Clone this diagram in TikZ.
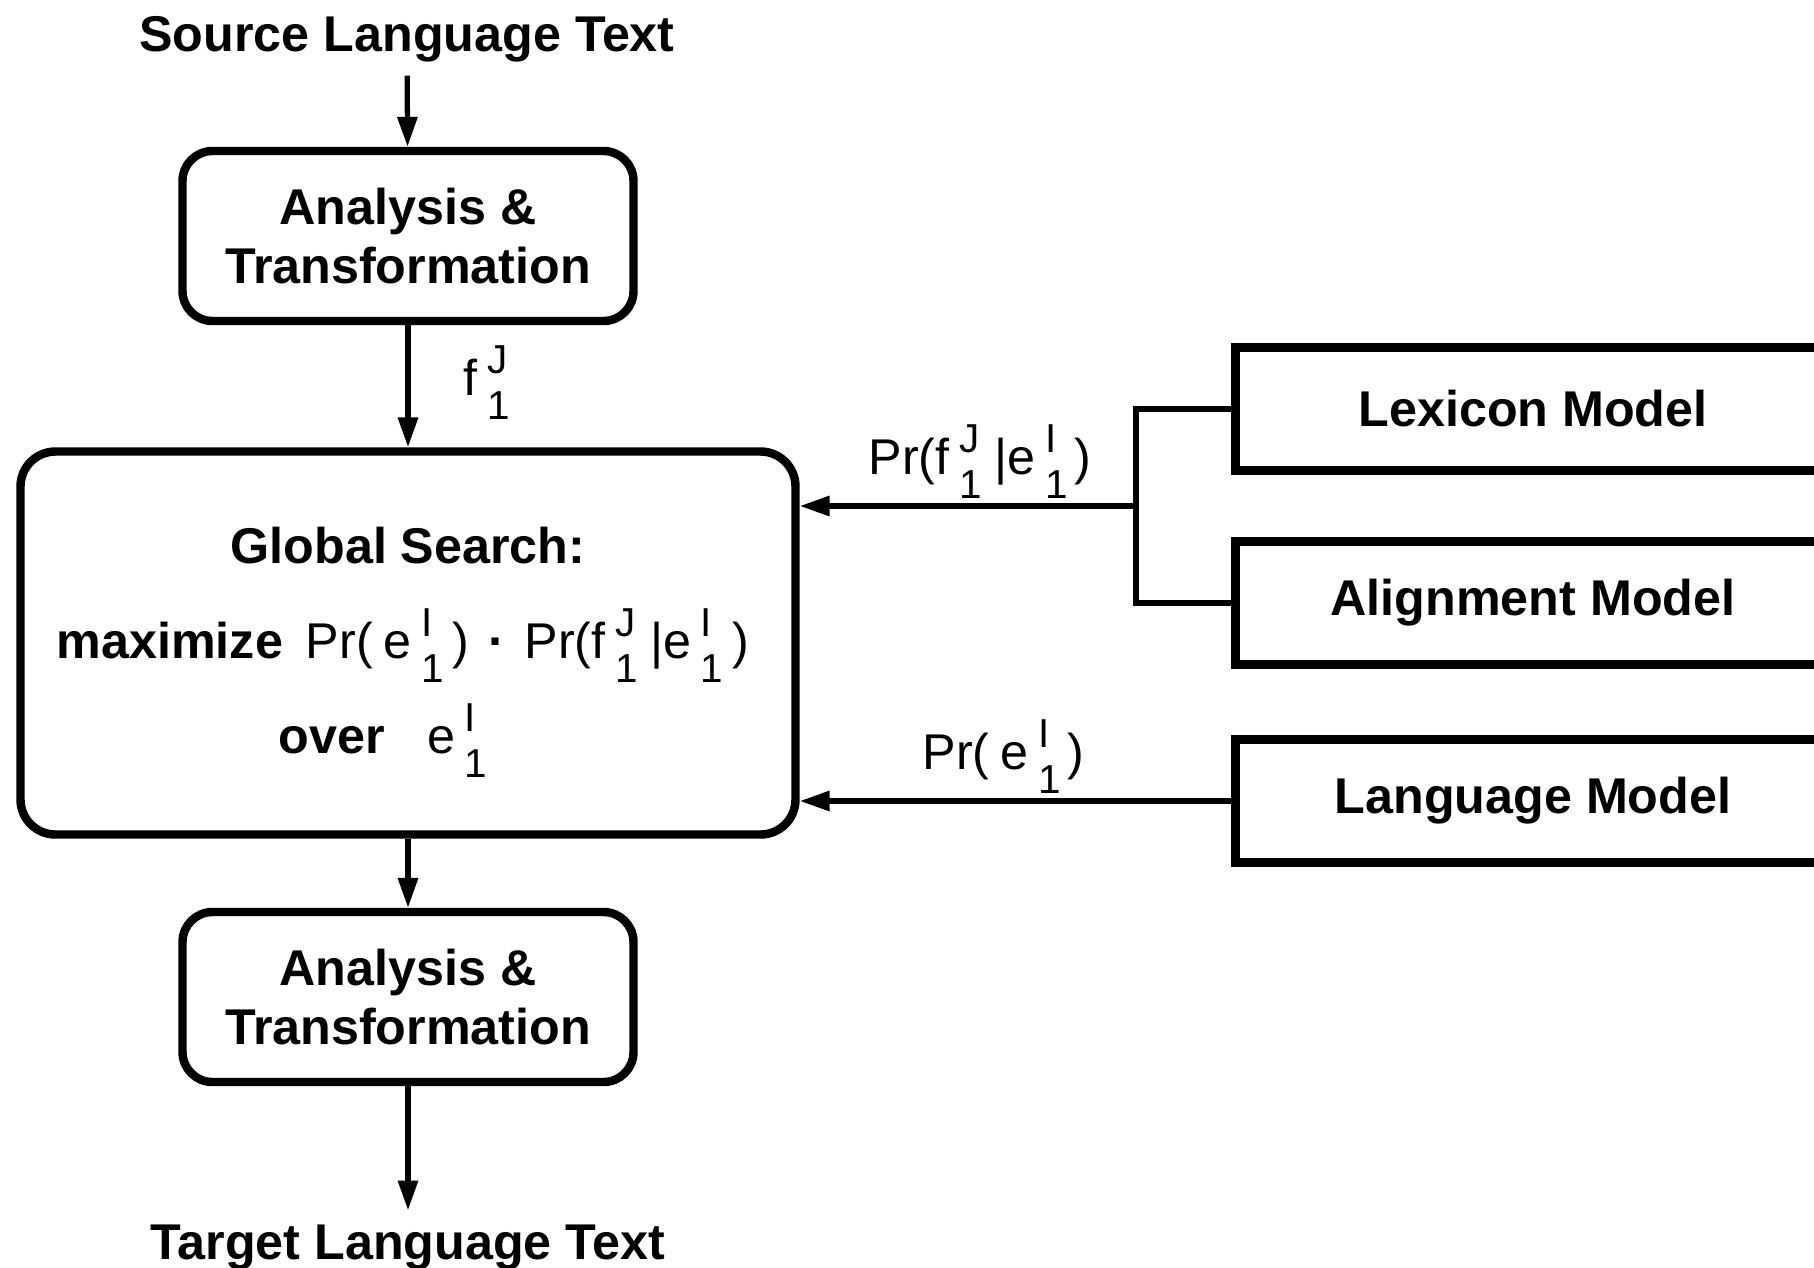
\documentclass[tikz,border=0pt]{standalone}
\usepackage{fontspec}
\setmainfont{Liberation Sans}
\usetikzlibrary{arrows.meta}
\newcommand{\mainsize}{\fontsize{14.3}{16.7}\selectfont}
\newcommand{\idxsize}{\fontsize{11.5}{13}\selectfont}
\newcommand{\seqvar}[2]{#1\hspace{2.8pt}\rlap{\raisebox{6pt}{\idxsize #2}}\raisebox{-7pt}{\idxsize 1}}
\tikzstyle{roundBox}=[shape = rectangle, rounded corners = 0.3cm, draw, line width = 2.4pt, minimum width = 4.51cm, minimum height = 1.70cm, align = center, font = \mainsize\bfseries]
\tikzstyle{modelBox}=[shape = rectangle, draw, line width = 2.7pt, minimum width = 5.95cm, minimum height = 1.23cm, font = \mainsize\bfseries]
\tikzstyle{titleText}=[inner sep = 3.8pt, anchor = base, font = \mainsize\bfseries]
\tikzstyle{mathLabel}=[inner sep = 0pt, anchor = base west, font = \mainsize]
\tikzstyle{arr}=[line width = 1.5pt, -{Triangle[length = 8.5pt, width = 5.5pt]}]
\tikzstyle{conn}=[line width = 1.5pt]

\begin{document}
\begin{tikzpicture}
\useasboundingbox (0,0) rectangle (18.14,-12.67);
\clip (0,0) rectangle (18.14,-12.67);
\node[titleText] (src) at (4.07,-0.51) {Source Language Text};
\node[roundBox] (at1) at (4.08,-2.36) {Analysis \&\\Transformation};
\node[roundBox, rounded corners = 0.35cm, minimum width = 7.75cm, minimum height = 3.83cm] (glob) at (4.08,-6.43) {};
\node[roundBox] (at2) at (4.08,-9.97) {Analysis \&\\Transformation};
\node[titleText] (trg) at (4.08,-12.59) {Target Language Text};
\node[titleText, inner sep = 0pt] (gs) at (4.08,-5.63) {Global Search:};
\node[mathLabel] (mx) at (0.56,-6.58) {\textbf{maximize}\hspace{6.5pt}Pr(\hspace{3pt}\seqvar{e}{I}\hspace{2.5pt})\hspace{5.5pt}\textbf{·}\hspace{5.5pt}Pr(\seqvar{f}{J}\hspace{3.5pt}|\seqvar{e}{I}\hspace{2.5pt})};
\node[mathLabel] (ov) at (2.78,-7.53) {\textbf{over}\hspace{12pt}\seqvar{e}{I}};
\node[modelBox] (lex) at (15.33,-4.09) {Lexicon Model};
\node[modelBox] (ali) at (15.33,-6.03) {Alignment Model};
\node[modelBox] (lang) at (15.33,-8.01) {Language Model};
\coordinate (jn) at (11.36,-5.06);
\node[mathLabel] (fj) at (4.63,-3.95) {\seqvar{f}{J}};
\node[mathLabel] (plex) at (8.68,-4.74) {Pr(\seqvar{f}{J}\hspace{3.5pt}|\seqvar{e}{I}\hspace{2pt})};
\node[mathLabel] (plang) at (9.22,-7.69) {Pr(\hspace{3pt}\seqvar{e}{I}\hspace{2pt})};
\draw[arr] (src) -- (at1);
\draw[arr] (at1) -- (glob);
\draw[arr] (glob) -- (at2);
\draw[arr] (at2) -- (trg);
\draw[conn] (lex.west) -| (jn) |- (ali.west);
\draw[arr] (jn) -- (jn -| glob.east);
\draw[arr] (lang.west) -- (lang.west -| glob.east);
\end{tikzpicture}
\end{document}
